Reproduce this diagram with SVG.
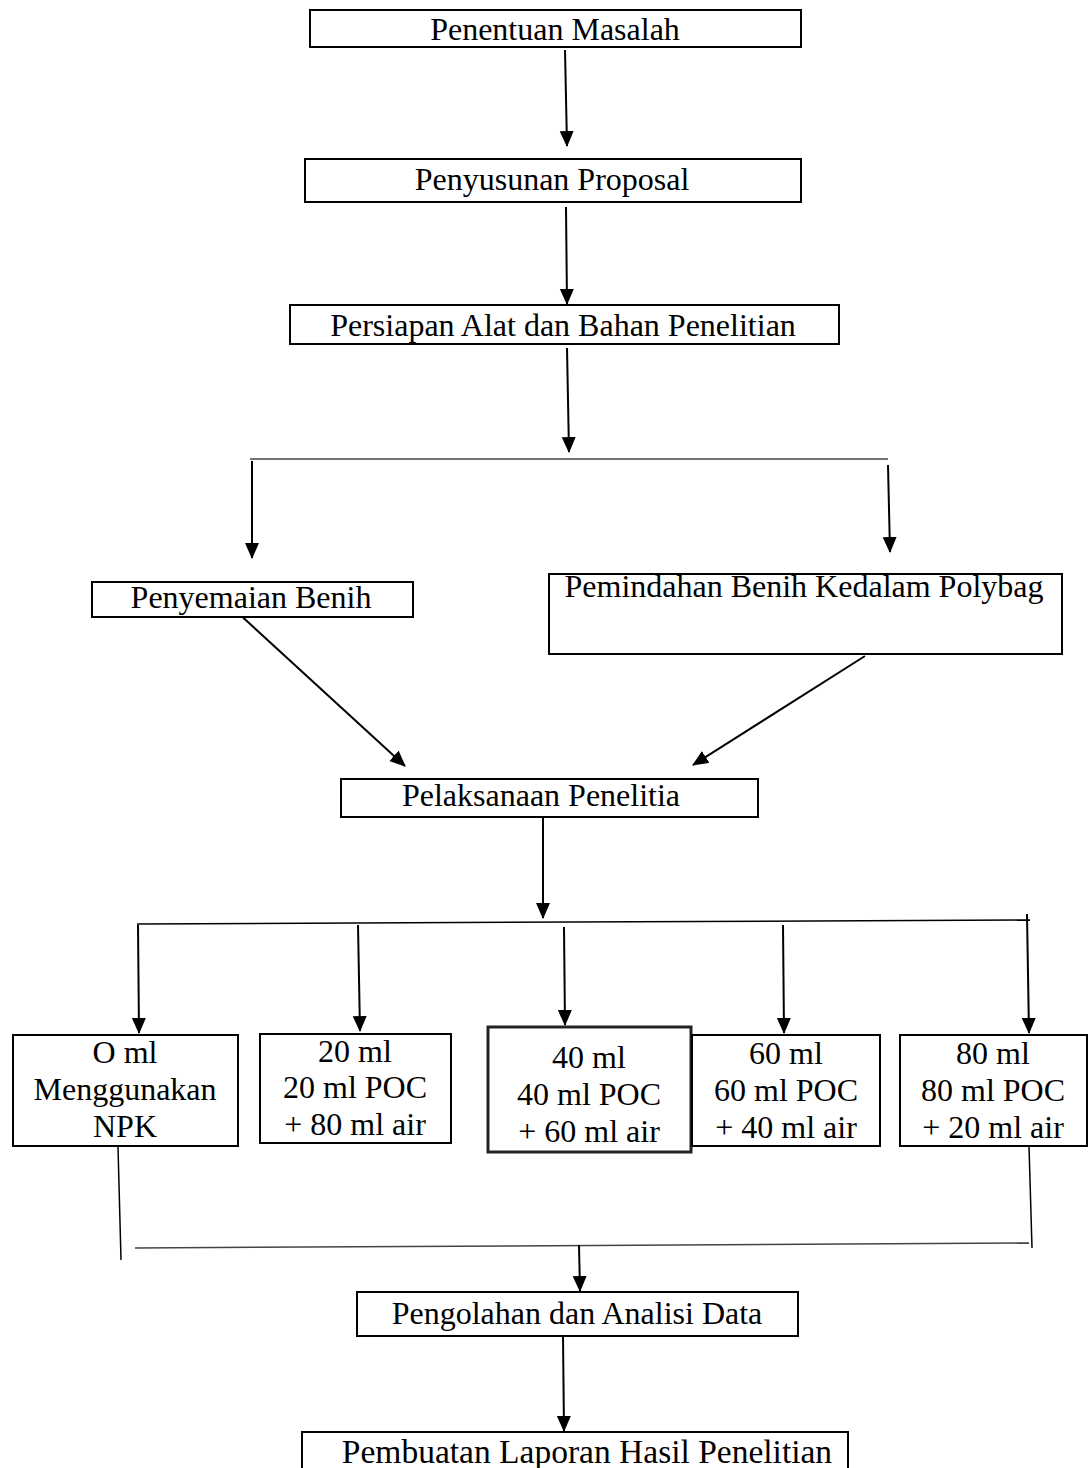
<svg xmlns="http://www.w3.org/2000/svg" width="1089" height="1468" viewBox="0 0 1089 1468">
<style>
.box{fill:#fff;stroke:#000;stroke-width:2}
.thick{fill:#fff;stroke:#222;stroke-width:3}
.t{font-family:"Liberation Serif","Times New Roman",serif;font-size:32px;fill:#000;text-anchor:middle}
.arr{stroke:#000;stroke-width:2;fill:none;marker-end:url(#ah)}
.ln{stroke:#000;stroke-width:1.5;fill:none}
.lg{stroke:#444;stroke-width:1.5;fill:none}
</style>
<defs>
<marker id="ah" markerUnits="userSpaceOnUse" markerWidth="16" markerHeight="18" refX="15" refY="7" orient="auto">
<path d="M0,0 L16,7 L0,14 z" fill="#000"/>
</marker>
</defs>
<rect width="1089" height="1468" fill="#fff"/>
<g id="connectors">
<line class="arr" x1="565" y1="50" x2="567" y2="146"/>
<line class="arr" x1="566" y1="207" x2="567" y2="304"/>
<line class="arr" x1="567" y1="348" x2="569" y2="452"/>
<line class="lg" x1="250" y1="459" x2="888" y2="459"/>
<line class="arr" x1="252" y1="461" x2="252" y2="558"/>
<line class="arr" x1="888" y1="465" x2="890" y2="552"/>
<line class="arr" x1="237" y1="612" x2="405" y2="766"/>
<line class="arr" x1="865" y1="656" x2="693" y2="765"/>
<line class="arr" x1="543" y1="817" x2="543" y2="918"/>
<line class="ln" x1="137" y1="924" x2="1030" y2="920"/>
<line class="arr" x1="138" y1="925" x2="139" y2="1033"/>
<line class="arr" x1="358" y1="925" x2="360" y2="1031"/>
<line class="arr" x1="564" y1="927" x2="565" y2="1025"/>
<line class="arr" x1="783" y1="925" x2="784" y2="1033"/>
<line class="arr" x1="1027" y1="914" x2="1029" y2="1033"/>
<line class="ln" x1="118" y1="1147" x2="121" y2="1260"/>
<line class="ln" x1="1029" y1="1146" x2="1032" y2="1248"/>
<line class="lg" x1="135" y1="1248" x2="1029" y2="1243"/>
<line class="arr" x1="579" y1="1245" x2="580" y2="1291"/>
<line class="arr" x1="563" y1="1336" x2="564" y2="1431"/>
</g>
<g id="n1"><rect class="box" x="310" y="10" width="491" height="37"/><text class="t" x="555" y="40">Penentuan Masalah</text></g>
<g id="n2"><rect class="box" x="305" y="159" width="496" height="43"/><text class="t" x="552" y="190">Penyusunan Proposal</text></g>
<g id="n3"><rect class="box" x="290" y="305" width="549" height="39"/><text class="t" x="563" y="336">Persiapan Alat dan Bahan Penelitian</text></g>
<g id="n4"><rect class="box" x="92" y="582" width="321" height="35"/><text class="t" x="251" y="608">Penyemaian Benih</text></g>
<g id="n5"><rect class="box" x="549" y="574" width="513" height="80"/><text class="t" x="804" y="597">Pemindahan Benih Kedalam Polybag</text></g>
<g id="n6"><rect class="box" x="341" y="779" width="417" height="38"/><text class="t" x="541" y="806">Pelaksanaan Penelitia</text></g>
<g id="n7"><rect class="box" x="13" y="1035" width="225" height="111"/><text class="t" x="125" y="1063">O ml</text><text class="t" x="125" y="1100">Menggunakan</text><text class="t" x="125" y="1137">NPK</text></g>
<g id="n8"><rect class="box" x="260" y="1034" width="191" height="109"/><text class="t" x="355" y="1062">20 ml</text><text class="t" x="355" y="1098">20 ml POC</text><text class="t" x="355" y="1135">+ 80 ml air</text></g>
<g id="n9"><rect class="thick" x="488" y="1027" width="203" height="125"/><text class="t" x="589" y="1068">40 ml</text><text class="t" x="589" y="1105">40 ml POC</text><text class="t" x="589" y="1142">+ 60 ml air</text></g>
<g id="n10"><rect class="box" x="692" y="1035" width="188" height="111"/><text class="t" x="786" y="1064">60 ml</text><text class="t" x="786" y="1101">60 ml POC</text><text class="t" x="786" y="1138">+ 40 ml air</text></g>
<g id="n11"><rect class="box" x="900" y="1035" width="187" height="111"/><text class="t" x="993" y="1064">80 ml</text><text class="t" x="993" y="1101">80 ml POC</text><text class="t" x="993" y="1138">+ 20 ml air</text></g>
<g id="n12"><rect class="box" x="357" y="1292" width="441" height="44"/><text class="t" x="577" y="1324">Pengolahan dan Analisi Data</text></g>
<g id="n13"><rect class="box" x="302" y="1432" width="546" height="50"/><text class="t" x="587" y="1463" style="font-size:33.5px">Pembuatan Laporan Hasil Penelitian</text></g>
</svg>
